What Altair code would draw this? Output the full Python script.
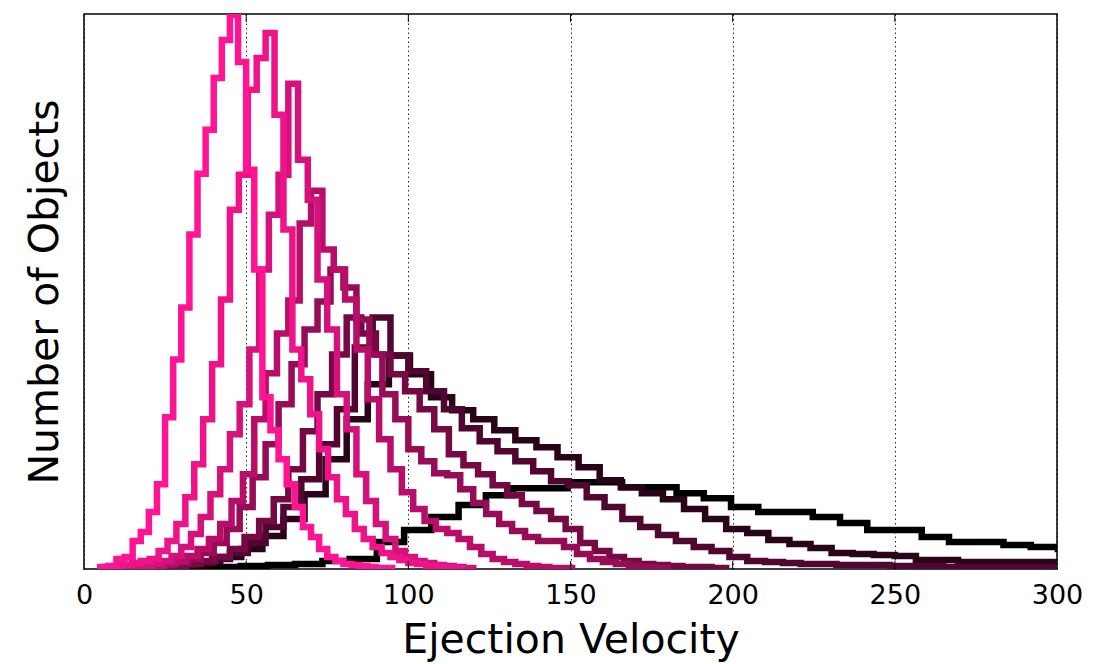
import altair as alt
import pandas as pd

# ---- data (heights in arbitrary count units) ----
SERIES = ["s1", "s2", "s3", "s4", "s5", "s6", "s7", "s8", "s9"]
COLORS = ["#FF1493", "#EE1389", "#D5117B", "#B80E6A", "#970C57",
          "#750943", "#500630", "#290318", "#000000"]
BIN_START = [5, 6.5, 12, 14, 16, 18, 17.5, 16, 31.5]
BIN_WIDTH = [2.5, 2.75, 3.0, 3.5, 4.0, 4.5, 5.5, 6.5, 8.4]

COUNTS_1 = [2, 3, 10, 12, 28, 37, 57, 85, 152, 210, 262, 335, 396, 440, 492, 530,
            555, 508, 400, 300, 172, 139, 110, 85, 62, 42, 32, 20, 12, 8, 5, 4, 3, 2, 1, 1]
COUNTS_2 = [2, 3, 4, 6, 8, 10, 18, 28, 45, 72, 105, 150, 205, 270, 360, 395, 480, 512,
            537, 455, 340, 220, 190, 155, 120, 92, 70, 55, 40, 30, 22, 16, 12, 9, 6, 5, 3, 3, 2, 1]
COUNTS_3 = [1, 2, 3, 5, 8, 13, 22, 35, 52, 75, 100, 135, 165, 220, 300, 355, 395, 486,
            410, 370, 290, 240, 175, 140, 95, 68, 45, 30, 18, 12, 8, 6, 4, 3, 2, 1]
COUNTS_4 = [1, 2, 3, 5, 8, 13, 20, 30, 45, 68, 95, 150, 196, 236, 269, 346, 379, 320,
            300, 270, 220, 170, 130, 100, 77, 60, 48, 40, 36, 30, 22, 15, 10, 7, 5, 3, 2, 1, 1]
COUNTS_5 = [1, 2, 4, 6, 10, 16, 26, 40, 62, 92, 125, 165, 205, 240, 268, 300, 282, 250,
            215, 175, 150, 120, 108, 96, 94, 80, 66, 55, 45, 38, 32, 28, 28, 22, 15, 10, 7, 5, 3, 2, 1]
COUNTS_6 = [1, 2, 3, 5, 8, 12, 20, 32, 48, 70, 100, 138, 175, 215, 252, 236, 215, 195,
            178, 160, 140, 115, 104, 95, 84, 74, 65, 58, 50, 40, 26, 18, 12, 8, 5, 4, 3, 2, 2, 1]
COUNTS_7 = [1, 2, 4, 6, 10, 16, 26, 42, 62, 90, 125, 160, 222, 252, 214, 198, 178, 160,
            141, 128, 118, 108, 98, 88, 84, 72, 62, 50, 42, 34, 28, 22, 18, 12, 8, 7, 6, 5,
            5, 4, 4, 4, 3, 3, 3, 2, 2, 2, 2, 2, 2, 2]
COUNTS_8 = [1, 2, 4, 7, 12, 20, 33, 50, 75, 110, 150, 185, 214, 195, 172, 159, 150, 139,
            129, 122, 112, 102, 89, 82, 76, 70, 60, 50, 40, 36, 29, 25, 21, 16, 15, 14, 13,
            9, 9, 7, 7, 7, 7, 7]
COUNTS_9 = [1, 2, 3, 4, 5, 8, 10, 27, 39, 52, 64, 74, 81, 81, 87, 87, 82, 82, 76, 71,
            62, 57, 57, 52, 46, 39, 39, 32, 27, 27, 24, 22, 20]
COUNTS = [COUNTS_1, COUNTS_2, COUNTS_3, COUNTS_4, COUNTS_5,
          COUNTS_6, COUNTS_7, COUNTS_8, COUNTS_9]

X_TICKS = [0, 50, 100, 150, 200, 250, 300]
INNER_TICKS = [50, 100, 150, 200, 250]

# ---- build step-outline table ----
rows = []
for name, start, width, counts in zip(SERIES, BIN_START, BIN_WIDTH, COUNTS):
    idx = 0
    rows.append({"series": name, "idx": idx, "v": start, "n": 0}); idx += 1
    for i, c in enumerate(counts):
        rows.append({"series": name, "idx": idx, "v": round(start + i * width, 4), "n": c}); idx += 1
    end = round(start + len(counts) * width, 4)
    rows.append({"series": name, "idx": idx, "v": end, "n": counts[-1]}); idx += 1
    rows.append({"series": name, "idx": idx, "v": end, "n": 0})
df = pd.DataFrame(rows)
ticks_df = pd.DataFrame({"v": INNER_TICKS})

W, H = 973, 555
FONT = "DejaVu Sans"

x_enc = alt.X("v:Q", scale=alt.Scale(domain=[0, 300], nice=False, zero=False),
              axis=alt.Axis(values=X_TICKS, title="Ejection Velocity", labelFontSize=27,
                            titleFontSize=41, titleFontWeight="normal", labelFont=FONT,
                            titleFont=FONT, labelColor="black", titleColor="black",
                            ticks=False, domain=False, labelPadding=13, titlePadding=12,
                            grid=True, gridDash=[1.5, 3], gridColor="black", gridOpacity=0.85,
                            gridWidth=1, labelFlush=False))
y_enc = alt.Y("n:Q", scale=alt.Scale(domain=[0, 556], nice=False),
              axis=alt.Axis(title="Number of Objects", labels=False, ticks=False, domain=False,
                            grid=False, titleFontSize=41, titleFontWeight="normal",
                            titleFont=FONT, titleColor="black", titlePadding=18))

base = alt.Chart(df)
layers = []
for name, color in reversed(list(zip(SERIES, COLORS))):
    layers.append(
        base.transform_filter(alt.datum.series == name)
        .mark_line(interpolate="step-after", color=color, strokeWidth=6.5,
                   strokeJoin="miter", clip=True)
        .encode(x=x_enc, y=y_enc, order="idx:Q")
    )

top_ticks = alt.Chart(ticks_df).mark_rule(color="black", strokeWidth=1).encode(
    x=x_enc, y=alt.value(0), y2=alt.value(8))
bottom_ticks = alt.Chart(ticks_df).mark_rule(color="black", strokeWidth=1).encode(
    x=x_enc, y=alt.value(H - 8), y2=alt.value(H))

chart = alt.layer(*layers, top_ticks, bottom_ticks).properties(
    width=W, height=H,
    autosize=alt.AutoSizeParams(type="none"),
    padding={"left": 84, "top": 14, "right": 50, "bottom": 95},
    background="white",
).configure_view(stroke="black", strokeWidth=1.5)

chart.save("out.html", embed_options={"renderer": "svg", "actions": False})
